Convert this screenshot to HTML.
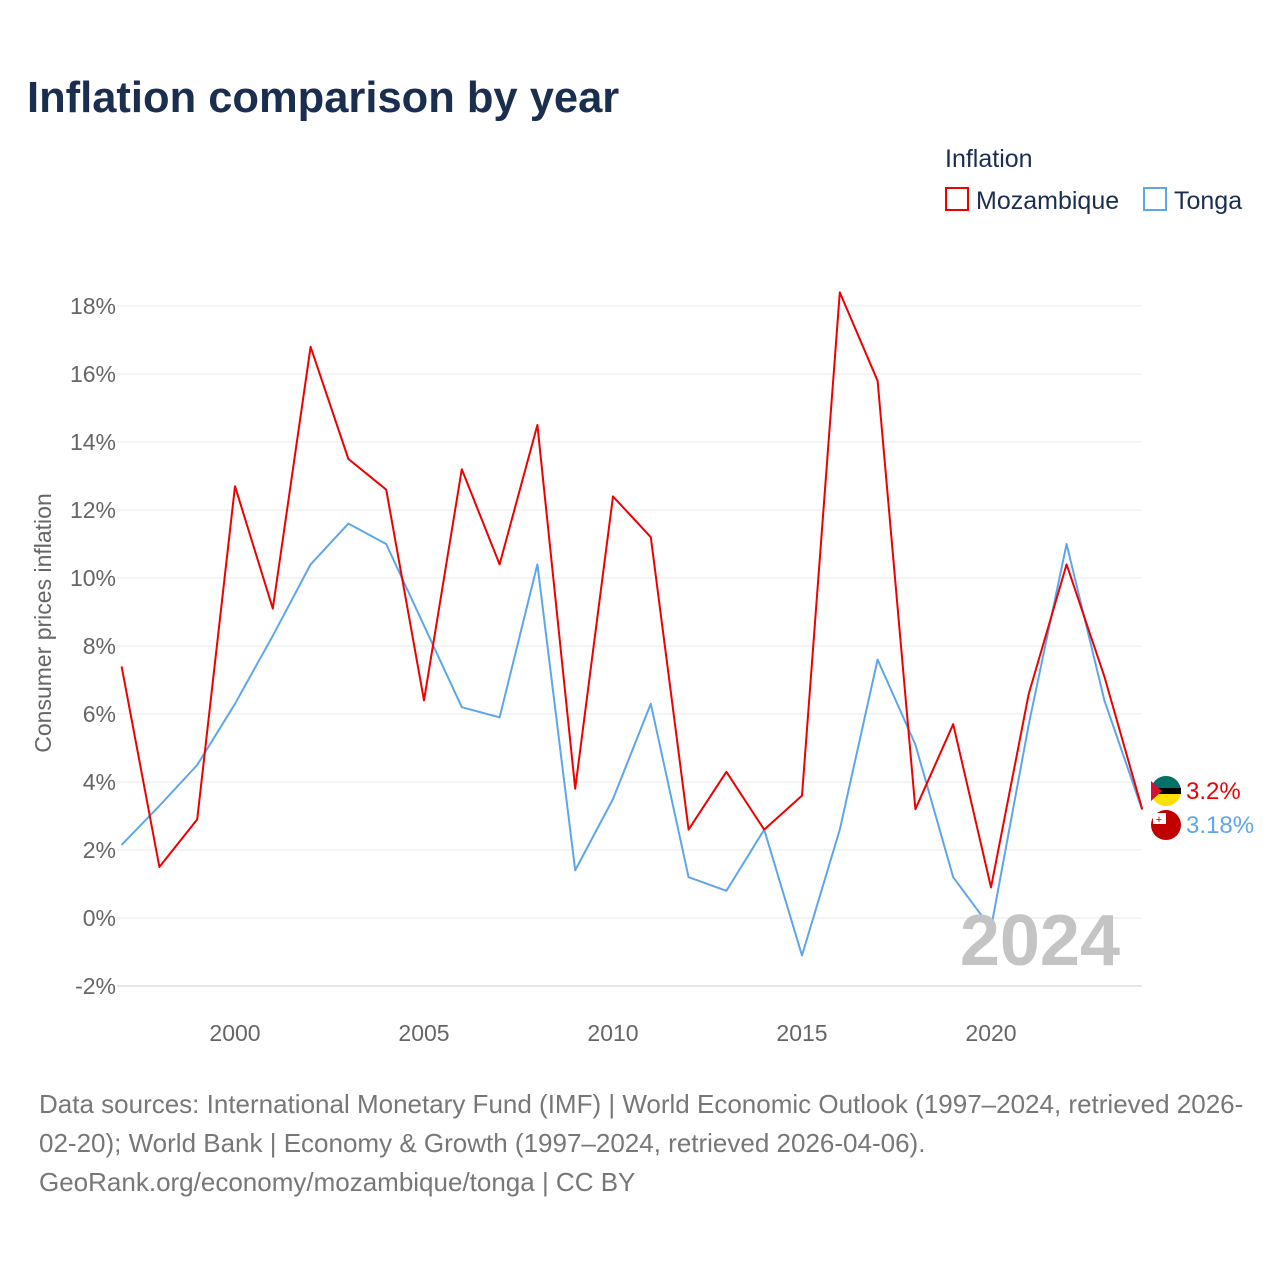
<!DOCTYPE html>
<html><head><meta charset="utf-8">
<style>
body{margin:0;background:#fff;width:1280px;height:1280px;overflow:hidden;font-family:"Liberation Sans",sans-serif}
</style></head>
<body>
<svg id="chart" width="1280" height="1280" xmlns="http://www.w3.org/2000/svg">
<text x="27" y="112" font-size="43.5" font-weight="bold" fill="#1a2e4f">Inflation comparison by year</text>
<text x="945" y="167" font-size="25" fill="#1a2e4f">Inflation</text>
<g><rect x="946" y="188" width="22" height="22" fill="none" stroke="#ee0000" stroke-width="2"/><text x="976" y="209" font-size="25" fill="#1a2e4f">Mozambique</text></g>
<g><rect x="1144" y="188" width="22" height="22" fill="none" stroke="#5ea6ea" stroke-width="2"/><text x="1174" y="209" font-size="25" fill="#1a2e4f">Tonga</text></g>
<text transform="translate(51,623) rotate(-90)" text-anchor="middle" font-size="23" fill="#666">Consumer prices inflation</text>
<g id="grid"></g><g id="yt"></g><g id="xt"></g><g id="lines"></g>
<text x="1120" y="965" text-anchor="end" font-size="72" font-weight="bold" fill="#c4c4c4">2024</text>
<g><circle cx="1166" cy="791" r="15" fill="#fce100"/><path d="M1151 791 A15 15 0 0 1 1181 791Z" fill="#007168"/><rect x="1151" y="788" width="30" height="6" fill="#000"/><path d="M1151 781 L1162 791 L1151 801Z" fill="#d21034"/></g>
<g><circle cx="1166" cy="825" r="15" fill="#c10000"/><rect x="1153" y="813" width="13" height="11" fill="#fff"/><text x="1159" y="823" font-size="11" fill="#c10000" text-anchor="middle">+</text></g>
<text x="1186" y="799" font-size="24" fill="#ee0000">3.2%</text>
<text x="1186" y="833" font-size="24" fill="#5ea6ea">3.18%</text>
<text font-size="26" fill="#777"><tspan x="39" y="1113">Data sources: International Monetary Fund (IMF) | World Economic Outlook (1997–2024, retrieved 2026-</tspan><tspan x="39" y="1152">02-20); World Bank | Economy &amp; Growth (1997–2024, retrieved 2026-04-06).</tspan><tspan x="39" y="1191">GeoRank.org/economy/mozambique/tonga | CC BY</tspan></text>
</svg>
<script>
const years=[1997,1998,1999,2000,2001,2002,2003,2004,2005,2006,2007,2008,2009,2010,2011,2012,2013,2014,2015,2016,2017,2018,2019,2020,2021,2022,2023,2024];
const mozambique=[7.4,1.5,2.9,12.7,9.1,16.8,13.5,12.6,6.4,13.2,10.4,14.5,3.8,12.4,11.2,2.6,4.3,2.6,3.6,18.4,15.8,3.2,5.7,0.9,6.6,10.4,7.1,3.2];
const tonga=[2.15,3.3,4.5,6.3,8.3,10.4,11.6,11.0,8.6,6.2,5.9,10.4,1.4,3.5,6.3,1.2,0.8,2.6,-1.1,2.6,7.6,5.1,1.2,-0.3,5.7,11.0,6.4,3.18];
const yTicks=[-2,0,2,4,6,8,10,12,14,16,18];
const xTicks=[2000,2005,2010,2015,2020];
const NS="http://www.w3.org/2000/svg";
const X=y=>235+(y-2000)*37.8, Y=v=>918-v*34;
function mk(t,p,a){const e=document.createElementNS(NS,t);for(const k in a)e.setAttribute(k,a[k]);p.appendChild(e);return e;}
const g=document.getElementById('grid'),yt=document.getElementById('yt'),xt=document.getElementById('xt'),ln=document.getElementById('lines');
yTicks.forEach(v=>{const l=mk('line',g,{x1:117,x2:1142,y1:Y(v),y2:Y(v),stroke:v===-2?'#ccc':'#e8e8e8','stroke-width':1});


const t=mk('text',yt,{x:116,y:Y(v)+8,'text-anchor':'end','font-size':23,fill:'#666'});t.textContent=v+'%';

});
xTicks.forEach(v=>{const t=mk('text',xt,{x:X(v),y:1041,'text-anchor':'middle','font-size':23,fill:'#666'});t.textContent=v;

});
function line(d,c,n){const p=mk('polyline',ln,{points:d.map((v,i)=>X(years[i])+','+Y(v)).join(' '),fill:'none',stroke:c,'stroke-width':2,'stroke-linejoin':'round'});

}
line(tonga,'#5ea6ea','tonga-line');
line(mozambique,'#ee0000','mozambique-line');
</script>
</body></html>
